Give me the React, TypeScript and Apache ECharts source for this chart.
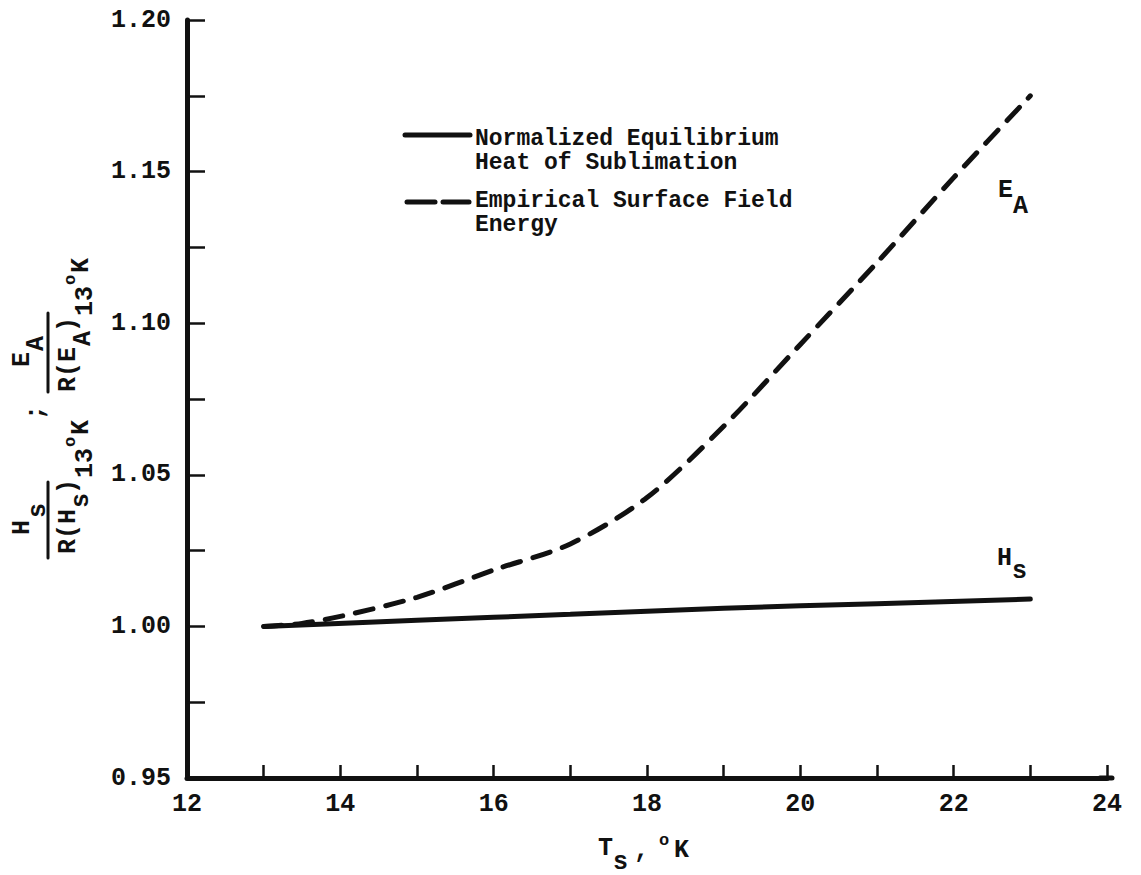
import React, { useEffect, useRef } from "react";
import * as echarts from "echarts";

const hsTemps = [13, 15, 17, 19, 21, 23];
const hsValues = [1.0, 1.002, 1.004, 1.006, 1.0075, 1.009];
const eaTemps = [13, 13.5, 14, 15, 16, 17, 18, 19, 20, 21, 22, 23];
const eaValues = [1.0, 1.001, 1.0033, 1.0096, 1.0186, 1.0272, 1.0425, 1.066, 1.093, 1.12, 1.148, 1.175];
const legendSolid = "Normalized Equilibrium\nHeat of Sublimation";
const legendDashed = "Empirical Surface Field\nEnergy";

const FONT = "'Liberation Mono', 'Courier New', monospace";
const INK = "#111";

function txt(t: string, x: number, y: number, size = 25, align = "left", lineHeight?: number) {
  return {
    type: "text",
    x,
    y,
    style: {
      text: t,
      fontFamily: FONT,
      fontWeight: "bold",
      fontSize: size,
      lineHeight,
      fill: INK,
      align,
      verticalAlign: "middle",
      textAlign: align,
      textVerticalAlign: "middle",
    },
  };
}

function ln(x1: number, y1: number, x2: number, y2: number, w = 3) {
  return {
    type: "line",
    shape: { x1, y1, x2, y2 },
    style: { stroke: INK, lineWidth: w, lineCap: "round" },
  };
}

export default function App() {
  const ref = useRef<HTMLDivElement>(null);
  useEffect(() => {
    if (!ref.current) return;
    const chart = echarts.init(ref.current, null, { renderer: "svg" });
    const yLabelGroup = {
      type: "group",
      x: 48,
      y: 558,
      rotation: Math.PI / 2,
      children: [
        ln(0, 0, 76, 0, 3),
        txt("H", 23, -26),
        txt("s", 40, -10),
        txt("R(H", 4, 20),
        txt("s", 50, 33),
        txt(")", 64, 20),
        txt("13", 80, 37),
        txt("o", 111, 22, 17),
        txt("K", 123, 33),
        txt(";", 138, -12),
        ln(166, 0, 245, 0, 3),
        txt("E", 191, -26),
        txt("A", 207, -12),
        txt("R(E", 166, 20),
        txt("A", 212, 35),
        txt(")", 226, 20),
        txt("13", 242, 37),
        txt("o", 273, 22, 17),
        txt("K", 285, 33),
      ],
    };
    chart.setOption({
      animation: false,
      backgroundColor: "#fff",
      grid: { left: 187, right: 34, top: 20, bottom: 97, containLabel: false },
      xAxis: {
        type: "value",
        min: 12,
        max: 24,
        interval: 1,
        axisLine: { lineStyle: { color: INK, width: 5 } },
        axisTick: { inside: true, length: 13, lineStyle: { color: INK, width: 2.5 } },
        splitLine: { show: false },
        axisLabel: {
          margin: 14,
          fontFamily: FONT,
          fontWeight: "bold",
          fontSize: 25,
          color: INK,
          formatter: (v: number) => (Math.round(v) % 2 === 0 ? String(Math.round(v)) : ""),
        },
      },
      yAxis: {
        type: "value",
        min: 0.95,
        max: 1.2,
        interval: 0.025,
        axisLine: { lineStyle: { color: INK, width: 5 } },
        axisTick: { inside: true, length: 18, lineStyle: { color: INK, width: 2.5 } },
        splitLine: { show: false },
        axisLabel: {
          margin: 16,
          fontFamily: FONT,
          fontWeight: "bold",
          fontSize: 25,
          color: INK,
          formatter: (v: number) => (Math.round(v * 1000) % 50 === 0 ? v.toFixed(2) : ""),
        },
      },
      series: [
        {
          type: "line",
          name: "Normalized Equilibrium Heat of Sublimation",
          data: hsTemps.map((t, i) => [t, hsValues[i]]),
          smooth: 0.3,
          showSymbol: false,
          lineStyle: { color: INK, width: 5, cap: "round" },
        },
        {
          type: "line",
          name: "Empirical Surface Field Energy",
          data: eaTemps.map((t, i) => [t, eaValues[i]]),
          smooth: 0.3,
          showSymbol: false,
          lineStyle: { color: INK, width: 5, type: [18, 13], cap: "round" },
        },
      ],
      graphic: [
        ln(1100, 778, 1112, 778, 5),
        ln(405, 135, 470, 135, 5),
        txt(legendSolid, 475, 151, 23, "left", 24),
        ln(407, 202, 435, 202, 5),
        ln(443, 202, 469, 202, 5),
        txt(legendDashed, 475, 213, 23, "left", 24),
        txt("E", 998, 190),
        txt("A", 1013, 206),
        txt("H", 997, 558),
        txt("s", 1012, 571),
        txt("T", 598, 848),
        txt("s", 613, 862),
        txt(",", 634, 850),
        txt("o", 659, 840, 17),
        txt("K", 674, 850),
        yLabelGroup,
      ],
    });
    return () => chart.dispose();
  }, []);
  return (
    <div
      ref={ref}
      style={{ position: "absolute", left: 0, top: 0, width: 1141, height: 875, background: "#fff" }}
    />
  );
}
